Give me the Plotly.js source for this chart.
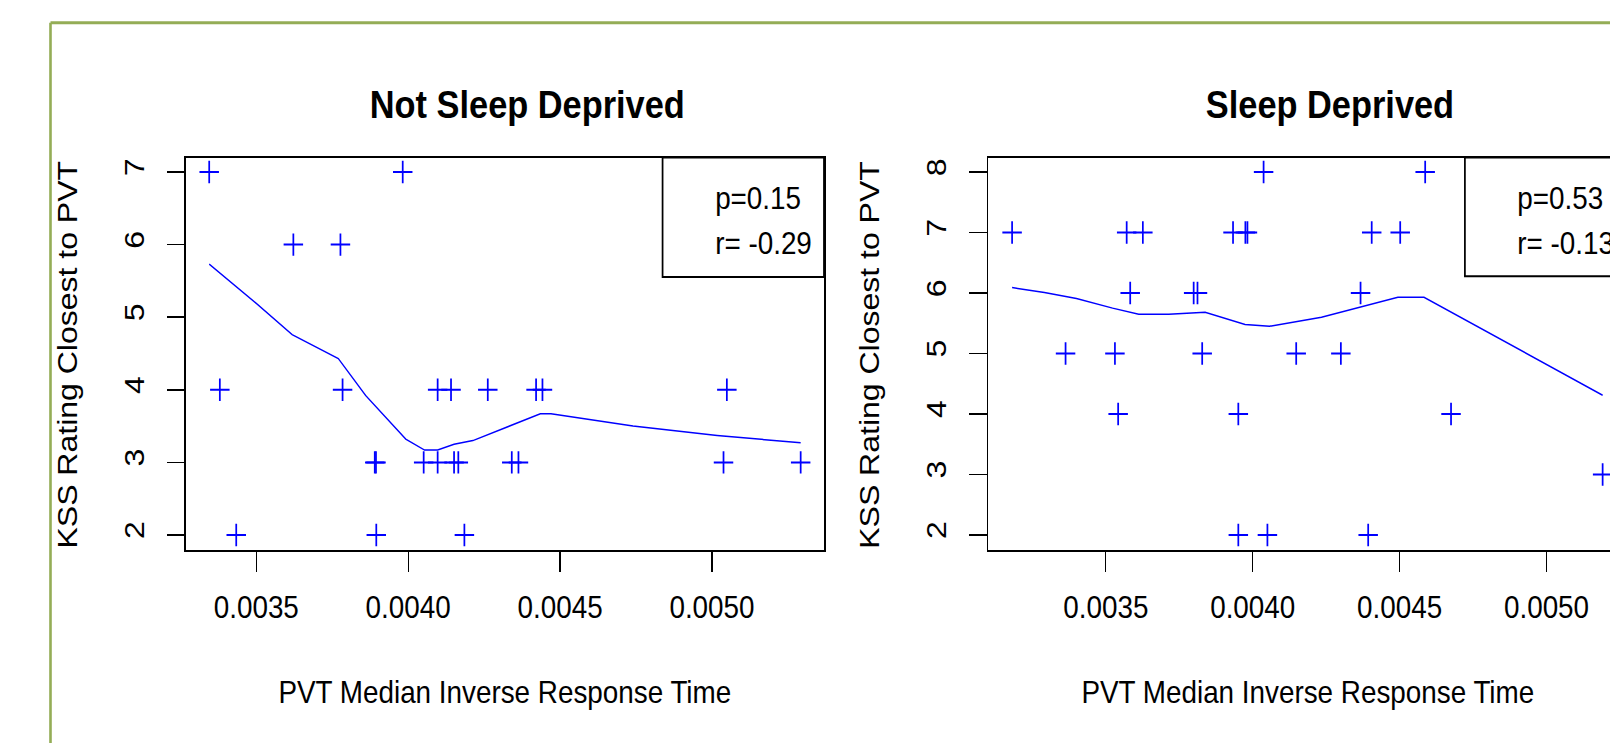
<!DOCTYPE html>
<html>
<head>
<meta charset="utf-8">
<script src="https://cdn.plot.ly/plotly-3.0.1.min.js"></script>
<style>
  html, body { margin: 0; padding: 0; background: #ffffff; overflow: hidden; width: 1610px; height: 743px; }
  #wrap { position: absolute; left: 0; top: 0; width: 1908px; height: 743px; transform: scaleX(0.87); transform-origin: 0 0; }
  #chart { width: 1908px; height: 743px; }
</style>
</head>
<body>
<div id="wrap"><div id="chart"></div></div>
<script>
// ---- Data ----
// Panel 1: Not Sleep Deprived
const nsX = [0.003345, 0.003982, 0.003622, 0.003777, 0.003380, 0.003784, 0.004097, 0.004141, 0.004262,
             0.004421, 0.004442, 0.005049, 0.003890, 0.003894, 0.004051, 0.004097, 0.004151, 0.004165,
             0.004341, 0.004363, 0.005038, 0.005292, 0.003434, 0.003895, 0.004185];
const nsY = [7, 7, 6, 6, 4, 4, 4, 4, 4, 4, 4, 4, 3, 3, 3, 3, 3, 3, 3, 3, 3, 3, 2, 2, 2];
const nsFitX = [0.003345, 0.003500, 0.003618, 0.003770, 0.003860, 0.003992, 0.004054, 0.004097,
                0.004151, 0.004213, 0.004435, 0.004470, 0.004740, 0.005017, 0.005292];
const nsFitY = [5.73, 5.19, 4.76, 4.43, 3.92, 3.32, 3.17, 3.17, 3.25, 3.30, 3.67, 3.67, 3.50, 3.37, 3.27];
const nsStats = ["p=0.15", "r= -0.29"];

// Panel 2: Sleep Deprived
const sdX = [0.004037, 0.004587, 0.003181, 0.003571, 0.003626, 0.003933, 0.003975, 0.003982, 0.004405,
             0.004502, 0.003583, 0.003799, 0.003812, 0.004367, 0.003363, 0.003531, 0.003828, 0.004148,
             0.004300, 0.003542, 0.003951, 0.004675, 0.005191, 0.003951, 0.004050, 0.004393];
const sdY = [8, 8, 7, 7, 7, 7, 7, 7, 7, 7, 6, 6, 6, 6, 5, 5, 5, 5, 5, 4, 4, 4, 3, 2, 2, 2];
const sdFitX = [0.003181, 0.003291, 0.003400, 0.003523, 0.003612, 0.003714, 0.003838, 0.003974,
                0.004057, 0.004234, 0.004494, 0.004583, 0.005191];
const sdFitY = [6.09, 6.01, 5.91, 5.75, 5.65, 5.65, 5.68, 5.48, 5.45, 5.60, 5.93, 5.93, 4.31];
const sdStats = ["p=0.53", "r= -0.13"];

// Axis ticks and labels
const xTickVals = [0.0035, 0.0040, 0.0045, 0.0050];
const xTickText = ["0.0035", "0.0040", "0.0045", "0.0050"];
const nsYTicks = [2, 3, 4, 5, 6, 7];
const sdYTicks = [2, 3, 4, 5, 6, 7, 8];
const panelTitles = ["Not Sleep Deprived", "Sleep Deprived"];
const xTitle = "PVT Median Inverse Response Time";
const yTitle = "KSS Rating Closest to PVT";

// ---- Layout helpers (figure coordinates in the squished frame: 1660 x 743) ----
const FW = 1660, FH = 743;
const fx = px => px / FW;
const fy = py => 1 - py / FH;
const FONT = "Liberation Sans, Arial, sans-serif";
const BLUE = "#0000ff";

function xAxis(domain, range) {
  return {
    domain: domain, range: range, tickmode: "array", tickvals: xTickVals, ticktext: xTickText,
    ticks: "outside", ticklen: 20, tickwidth: 1.5, tickcolor: "#000",
    showline: true, mirror: true, linecolor: "#000", linewidth: 2,
    showgrid: false, zeroline: false, ticklabelstandoff: 8,
    tickfont: { family: FONT, size: 32, color: "#000" }, fixedrange: true
  };
}
function yAxis(range, ticks, anchor) {
  return {
    domain: [fy(549.5), fy(157.5)], range: range, tickmode: "array", tickvals: ticks,
    ticktext: ticks.map(String), tickangle: -90, anchor: anchor,
    ticks: "outside", ticklen: 20, tickwidth: 1.5, tickcolor: "#000",
    showline: true, mirror: true, linecolor: "#000", linewidth: 2,
    showgrid: false, zeroline: false, ticklabelstandoff: 14,
    tickfont: { family: FONT, size: 32, color: "#000" }, fixedrange: true
  };
}

const traces = [
  { x: nsX, y: nsY, xaxis: "x", yaxis: "y", type: "scatter", mode: "markers",
    marker: { symbol: "cross-thin-open", size: 16, color: BLUE, line: { color: BLUE, width: 2 } }, hoverinfo: "skip" },
  { x: nsFitX, y: nsFitY, xaxis: "x", yaxis: "y", type: "scatter", mode: "lines",
    line: { color: BLUE, width: 1.5 }, hoverinfo: "skip" },
  { x: sdX, y: sdY, xaxis: "x2", yaxis: "y2", type: "scatter", mode: "markers",
    marker: { symbol: "cross-thin-open", size: 16, color: BLUE, line: { color: BLUE, width: 2 } }, hoverinfo: "skip" },
  { x: sdFitX, y: sdFitY, xaxis: "x2", yaxis: "y2", type: "scatter", mode: "lines",
    line: { color: BLUE, width: 1.5 }, hoverinfo: "skip" }
];

function ann(text, x, y, opts) {
  return Object.assign({ text: text, x: x, y: y, xref: "paper", yref: "paper", showarrow: false,
    xanchor: "center", yanchor: "middle", font: { family: FONT, size: 32, color: "#000" } }, opts || {});
}

const annotations = [
  ann("<b>" + panelTitles[0] + "</b>", fx(527), fy(104), { font: { family: FONT, size: 39.5, color: "#000" } }),
  ann("<b>" + panelTitles[1] + "</b>", fx(1330), fy(104), { font: { family: FONT, size: 39.5, color: "#000" } }),
  ann(xTitle, fx(505), fy(692)),
  ann(xTitle, fx(1308), fy(692)),
  ann(yTitle, fx(67.5), fy(355), { textangle: -90 }),
  ann(yTitle, fx(869), fy(355), { textangle: -90 }),
  ann(nsStats[0], fx(713), fy(198), { xanchor: "left" }),
  ann(nsStats[1], fx(713), fy(243), { xanchor: "left" }),
  ann(sdStats[0], fx(1516), fy(198), { xanchor: "left" }),
  ann(sdStats[1], fx(1516), fy(243), { xanchor: "left" })
];

const GREEN = "#94ad56";
const shapes = [
  { type: "rect", xref: "x domain", yref: "y domain", x0: 0.747, x1: 1, y0: 0.695, y1: 1,
    line: { color: "#000", width: 2 }, fillcolor: "rgba(0,0,0,0)" },
  { type: "rect", xref: "x2 domain", yref: "y2 domain", x0: 0.747, x1: 1, y0: 0.697, y1: 1,
    line: { color: "#000", width: 2 }, fillcolor: "rgba(0,0,0,0)" },
  { type: "line", xref: "paper", yref: "paper", x0: fx(50.5), x1: 1, y0: fy(22.7), y1: fy(22.7),
    line: { color: GREEN, width: 3 } },
  { type: "line", xref: "paper", yref: "paper", x0: fx(50.5), x1: fx(50.5), y0: 0, y1: fy(22.7),
    line: { color: GREEN, width: 3 } }
];

const layout = {
  width: 1908, height: 743,
  margin: { l: 0, r: 0, t: 0, b: 0, pad: 0 },
  paper_bgcolor: "#ffffff", plot_bgcolor: "#ffffff",
  showlegend: false,
  xaxis: Object.assign(xAxis([fx(186), fx(824)], [0.0032686, 0.0053687]), { anchor: "y" }),
  yaxis: yAxis([1.8, 7.2], nsYTicks, "x"),
  xaxis2: Object.assign(xAxis([fx(988.5), fx(1626.3)], [0.0031006, 0.0052714]), { anchor: "y2" }),
  yaxis2: yAxis([1.76, 8.24], sdYTicks, "x2"),
  annotations: annotations,
  shapes: shapes
};

Plotly.newPlot("chart", traces, layout, { displayModeBar: false, staticPlot: true, responsive: false });
</script>
</body>
</html>
